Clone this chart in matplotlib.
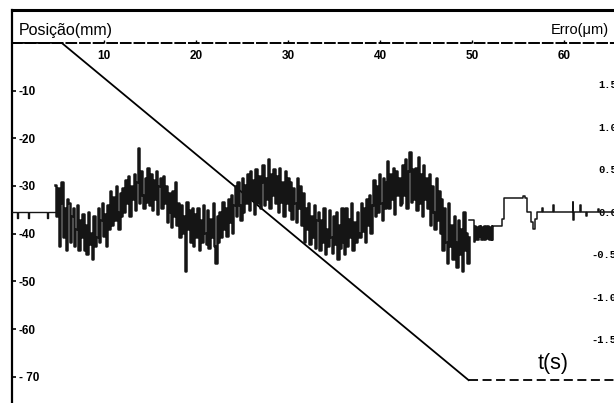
import numpy as np
import matplotlib.pyplot as plt

# posicao (mm): repouso, rampa, repouso
pos_t = [0.0, 5.4, 49.6]
pos_mm = [0.0, 0.0, -70.7]
pos_end_t = [49.6, 65.4]
pos_end_mm = [-70.7, -70.7]

# erro (um) antes do movimento
pre_t = [0.0, 0.5, 0.6, 1.7, 1.8, 3.8, 3.9, 4.7]
pre_err = [0.0, -0.07, 0.0, -0.07, 0.0, -0.07, 0.0, 0.0]

# erro (um) durante o movimento, amostrado de 4.7 s a 49.7 s
noise_err = [
    0.32, -0.05, 0.28, -0.40, 0.10, 0.35, -0.30, 0.05, -0.45, 0.15,
    0.10, -0.35, -0.05, 0.05, -0.40, -0.20, 0.08, -0.45, -0.10, -0.30,
    -0.02, -0.45, -0.15, -0.50, 0.00, -0.38, -0.25, -0.55, -0.05, -0.40,
    -0.30, 0.05, -0.35, -0.10, 0.10, -0.28, -0.02, -0.40, 0.08, -0.20,
    0.25, -0.15, 0.18, -0.10, 0.30, 0.00, -0.20, 0.22, -0.05, 0.28,
    0.00, 0.38, 0.10, 0.42, -0.05, 0.30, 0.15, 0.45, 0.02, 0.35,
    0.75, 0.10, 0.48, 0.20, 0.05, 0.40, 0.12, 0.52, 0.08, 0.45,
    0.02, 0.38, 0.15, 0.48, -0.02, 0.30, 0.40, 0.05, 0.42, 0.10,
    0.30, -0.12, 0.22, 0.00, -0.18, 0.25, -0.05, 0.35, -0.15, 0.10,
    -0.30, 0.08, -0.25, -0.05, -0.70, 0.12, -0.20, 0.02, -0.35, 0.05,
    -0.40, -0.02, -0.30, 0.05, -0.45, -0.10, -0.35, 0.08, -0.25, -0.38,
    0.02, -0.42, -0.08, -0.30, 0.10, -0.40, -0.60, -0.05, -0.35, 0.00,
    -0.30, 0.12, -0.20, 0.05, -0.28, 0.15, -0.12, 0.20, -0.25, 0.08,
    0.30, -0.05, 0.35, 0.08, -0.10, 0.40, 0.00, 0.32, 0.10, 0.45,
    0.02, 0.48, 0.15, 0.38, -0.02, 0.50, 0.10, 0.42, 0.05, 0.35,
    0.55, 0.08, 0.40, 0.15, 0.62, 0.05, 0.45, 0.20, 0.50, 0.10,
    0.42, 0.00, 0.52, 0.12, 0.35, -0.05, 0.48, 0.10, 0.40, 0.02,
    0.35, -0.08, 0.28, 0.10, -0.12, 0.40, 0.05, 0.30, -0.15, 0.22,
    -0.35, 0.05, -0.20, 0.10, -0.38, -0.05, -0.30, 0.08, -0.42, -0.10,
    0.00, -0.45, -0.10, -0.35, 0.05, -0.50, -0.20, -0.40, 0.02, -0.30,
    -0.48, -0.05, -0.38, 0.00, -0.55, -0.15, -0.42, 0.05, -0.35, -0.50,
    0.05, -0.40, -0.08, -0.30, 0.10, -0.45, -0.12, -0.35, 0.00, -0.25,
    -0.30, 0.10, -0.22, 0.05, -0.35, 0.15, -0.15, 0.20, -0.25, 0.08,
    0.38, -0.05, 0.30, 0.00, 0.45, 0.10, -0.10, 0.40, 0.05, 0.35,
    0.60, 0.05, 0.45, 0.15, 0.52, -0.02, 0.48, 0.20, 0.40, 0.08,
    0.10, 0.55, 0.20, 0.62, 0.05, 0.48, 0.70, 0.12, 0.50, 0.15,
    0.52, 0.02, 0.65, 0.10, 0.45, -0.05, 0.55, 0.15, 0.40, 0.05,
    0.45, -0.15, 0.30, 0.00, -0.20, 0.40, -0.10, 0.25, -0.25, 0.15,
    -0.45, 0.05, -0.35, -0.60, 0.10, -0.40, -0.15, -0.55, -0.05, -0.35,
    -0.65, -0.10, -0.50, -0.20, -0.70, 0.00, -0.45, -0.25, -0.60, -0.30,
]
noise_t = np.linspace(4.7, 49.7, len(noise_err))

# erro (um) depois da parada
post_t = [49.7, 50.2, 50.3, 50.4, 50.5, 50.6, 50.7, 50.8, 50.9, 51.0, 51.1,
          51.2, 51.3, 51.4, 51.5, 51.6, 51.7, 51.8, 51.9, 52.0, 52.1, 52.2,
          52.3, 52.4, 52.7, 53.2, 53.5, 55.5, 55.7, 56.0, 56.4, 56.6, 56.8,
          57.0, 57.6, 57.7, 58.8, 58.9, 60.9, 61.0, 61.1, 61.7, 61.8, 62.4,
          62.5, 63.7, 63.8, 65.4]
post_err = [-0.10, -0.35, -0.17, -0.33, -0.18, -0.33, -0.17, -0.30, -0.17,
            -0.33, -0.18, -0.33, -0.17, -0.33, -0.17, -0.32, -0.17, -0.33,
            -0.18, -0.33, -0.17, -0.33, -0.17, -0.17, -0.17, -0.08, 0.16,
            0.19, 0.16, 0.0, -0.12, -0.20, -0.08, 0.0, 0.05, 0.0, 0.08, 0.0,
            0.12, -0.10, 0.0, 0.08, 0.0, -0.05, 0.0, 0.04, 0.0, 0.0]

left_ticks = [-10, -20, -30, -40, -50, -60, -70]
left_labels = ['-10', '-20', '-30', '-40', '-50', '-60', '- 70']
top_ticks = [10, 20, 30, 40, 50, 60]
right_ticks = [1.5, 1.0, 0.5, 0.0, -0.5, -1.0, -1.5]
right_labels = ['1.5', '1.0', '0.5', '0.0', '-0.5', '-1.0', '-1.5']

W, H = 614, 403
fig = plt.figure(figsize=(W / 100, H / 100), dpi=100)
ax = fig.add_axes([12 / W, 0, 1 - 12 / W, 1 - 10 / H])
ax.set_xlim(0, 65.4)
ax.set_ylim(-75.5, 6.9)

ax.plot(pos_t, pos_mm, color='black', lw=1.3)
ax.plot(pos_end_t, pos_end_mm, color='black', lw=1.3, ls=(0, (5, 2.5)))

ax.spines['right'].set_visible(False)
ax.spines['top'].set_linewidth(2.2)
ax.spines['left'].set_linewidth(1.6)
ax.spines['bottom'].set_position(('data', 0))
ax.spines['bottom'].set_linestyle((0, (5, 2)))
ax.spines['bottom'].set_linewidth(1.4)

ax.set_xticks(top_ticks)
ax.set_xticklabels([str(v) for v in top_ticks], fontsize=8.5, fontweight='bold',
                   family='Liberation Sans')
ax.tick_params(axis='x', direction='in', length=2.5, width=1, pad=5)

ax.set_yticks(left_ticks)
ax.set_yticklabels(left_labels, fontsize=8.5, fontweight='bold',
                   family='Liberation Sans')
ax.tick_params(axis='y', direction='in', length=3, width=1.2, pad=-5)
for lab in ax.get_yticklabels():
    lab.set_horizontalalignment('left')

ax2 = ax.twinx()
ax2.set_ylim(-2.247, 2.376)
ax2.plot(pre_t, pre_err, color='#151515', lw=1.0, drawstyle='steps-post')
ax2.plot(noise_t, noise_err, color='#151515', lw=1.8, drawstyle='steps-mid')
ax2.plot(post_t, post_err, color='#151515', lw=1.1, drawstyle='steps-post')
for s in ['top', 'bottom', 'left', 'right']:
    ax2.spines[s].set_visible(False)
ax2.set_yticks(right_ticks)
ax2.set_yticklabels(right_labels, fontsize=7.5, fontweight='bold',
                    family='Liberation Mono')
ax2.tick_params(axis='y', length=0, pad=2)
for lab in ax2.get_yticklabels():
    lab.set_horizontalalignment('right')

fig.text(19 / W, 1 - 30 / H, 'Posição(mm)', fontsize=11.5,
         family='Liberation Sans', va='center', ha='left')
fig.text(551 / W, 1 - 30 / H, 'Erro(μm)', fontsize=10.5,
         family='Liberation Sans', va='center', ha='left')
ax.text(58.8, -67.2, 't(s)', fontsize=15.5, family='Liberation Sans',
        ha='center', va='center')

fig.savefig('out.png', dpi=100)
